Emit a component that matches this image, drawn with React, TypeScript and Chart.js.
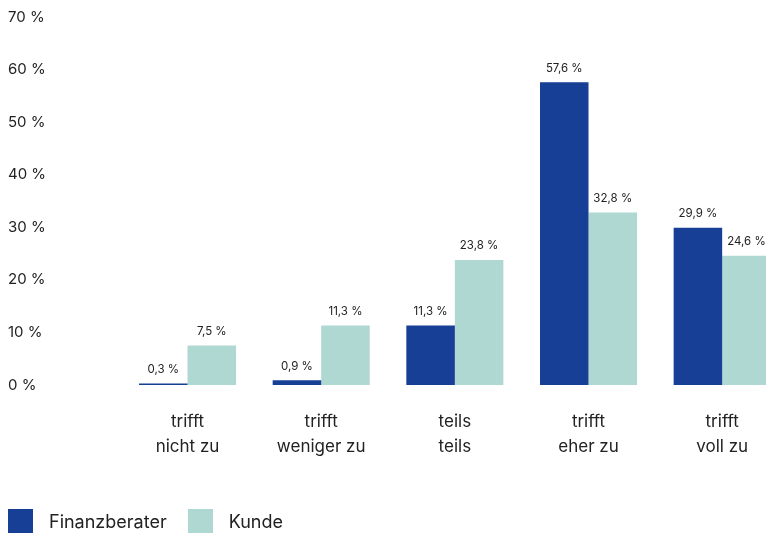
import React, { useEffect, useRef } from "react";
import { Chart, registerables } from "chart.js";

Chart.register(...registerables);

const categories: string[][] = [
  ["trifft", "nicht zu"],
  ["trifft", "weniger zu"],
  ["teils", "teils"],
  ["trifft", "eher zu"],
  ["trifft", "voll zu"],
];
const finanzberater: number[] = [0.3, 0.9, 11.3, 57.6, 29.9];
const kunde: number[] = [7.5, 11.3, 23.8, 32.8, 24.6];
const seriesNames = ["Finanzberater", "Kunde"];
const seriesColors = ["#173f95", "#b0d8d3"];
const yMax = 70;
const yStep = 10;

const FONT = "Inter, 'Noto Sans', sans-serif";
const TEXT = "#222222";

const fmt = (v: number) => v.toFixed(1).replace(".", ",") + " %";

const valueLabels = {
  id: "valueLabels",
  afterDatasetsDraw(chart: any) {
    const ctx = chart.ctx;
    ctx.save();
    ctx.font = `11.5px ${FONT}`;
    ctx.fillStyle = TEXT;
    ctx.textAlign = "center";
    ctx.textBaseline = "middle";
    chart.data.datasets.forEach((ds: any, di: number) => {
      const meta = chart.getDatasetMeta(di);
      meta.data.forEach((el: any, i: number) => {
        ctx.fillText(fmt(ds.data[i]), el.x, el.y - 14);
      });
    });
    ctx.restore();
  },
};

export default function App() {
  const ref = useRef<HTMLCanvasElement>(null);

  useEffect(() => {
    document.documentElement.style.overflow = "hidden";
    document.body.style.margin = "8px 0 0 8px";
    const chart = new Chart(ref.current!, {
      type: "bar",
      data: {
        labels: categories,
        datasets: [
          { label: seriesNames[0], data: finanzberater, backgroundColor: seriesColors[0] },
          { label: seriesNames[1], data: kunde, backgroundColor: seriesColors[1] },
        ],
      },
      options: {
        responsive: false,
        animation: false,
        layout: { padding: { left: 0, right: 0, top: 0, bottom: 0 } },
        datasets: { bar: { categoryPercentage: 0.726, barPercentage: 1 } },
        plugins: {
          legend: { display: false },
          tooltip: { enabled: false },
        },
        scales: {
          x: {
            grid: { display: false, drawTicks: false },
            border: { display: false },
            ticks: {
              color: TEXT,
              font: { family: FONT, size: 17, lineHeight: 1.45 },
              padding: 25,
              maxRotation: 0,
              autoSkip: false,
            },
            afterFit: (s: any) => {
              s.height = 148;
            },
          },
          y: {
            min: 0,
            max: yMax,
            grid: { display: false, drawTicks: false },
            border: { display: false },
            ticks: {
              stepSize: yStep,
              color: TEXT,
              crossAlign: "far",
              padding: 0,
              font: { family: FONT, size: 15 },
              callback: (v: any) => `${v} %`,
            },
            afterFit: (s: any) => {
              s.width = 112.7;
            },
          },
        },
      },
      plugins: [valueLabels],
    });
    return () => chart.destroy();
  }, []);

  return (
    <div style={{ position: "relative", width: 758, height: 525, overflow: "hidden" }}>
      <canvas ref={ref} width={781} height={525} style={{ display: "block" }} />
      <div
        style={{
          position: "absolute",
          left: 0,
          top: 501,
          display: "flex",
          alignItems: "center",
          fontFamily: FONT,
          fontSize: 18,
          color: TEXT,
          whiteSpace: "nowrap",
        }}
      >
        {seriesNames.map((n, i) => (
          <div key={n} style={{ display: "flex", alignItems: "center", marginRight: 21 }}>
            <span
              style={{
                display: "inline-block",
                width: 25,
                height: 24,
                background: seriesColors[i],
                marginRight: 16,
              }}
            />
            <span>{n}</span>
          </div>
        ))}
      </div>
    </div>
  );
}
